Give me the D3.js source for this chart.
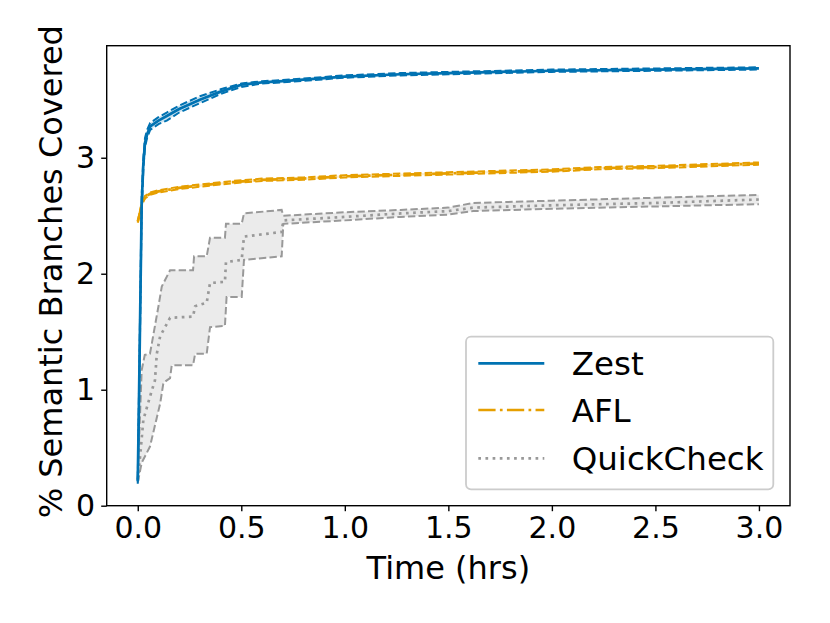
<!DOCTYPE html>
<html><head><meta charset="utf-8">
<script src="https://cdn.jsdelivr.net/npm/d3@7"></script>
<style>body{margin:0;background:#fff}svg{display:block}text{font-family:"DejaVu Sans",sans-serif;fill:#000}</style>
</head><body>
<svg id="c" width="830" height="623"></svg>
<script>
// ---- data (hours, % semantic branches covered) ----
const zestT   = [0, 0.005, 0.012, 0.019, 0.027, 0.035, 0.045, 0.06, 0.1, 0.14, 0.2, 0.3, 0.4, 0.5, 0.6, 0.7, 1.0, 1.27, 1.5, 2.0, 2.5, 3.0];
const zestMed = [0.21, 0.8, 1.7, 2.6, 2.95, 3.13, 3.2, 3.27, 3.32, 3.36, 3.42, 3.50, 3.57, 3.63, 3.65, 3.66, 3.70, 3.72, 3.73, 3.75, 3.76, 3.77];
const zestLo  = [0.19, 0.75, 1.62, 2.52, 2.9, 3.09, 3.17, 3.24, 3.29, 3.32, 3.39, 3.47, 3.55, 3.61, 3.64, 3.65, 3.69, 3.71, 3.72, 3.74, 3.75, 3.76];
const zestHi  = [0.23, 0.86, 1.78, 2.68, 3.0, 3.17, 3.24, 3.30, 3.35, 3.39, 3.45, 3.53, 3.59, 3.64, 3.66, 3.67, 3.71, 3.73, 3.74, 3.76, 3.77, 3.78];

const aflT    = [0, 0.01, 0.019, 0.035, 0.06, 0.1, 0.2, 0.3, 0.46, 0.6, 0.8, 1.0, 1.5, 2.0, 2.23, 2.5, 3.0];
const aflMed  = [2.45, 2.52, 2.60, 2.66, 2.69, 2.71, 2.74, 2.76, 2.79, 2.81, 2.82, 2.84, 2.865, 2.89, 2.91, 2.92, 2.95];
const aflLo   = [2.44, 2.51, 2.59, 2.65, 2.68, 2.70, 2.73, 2.75, 2.78, 2.80, 2.81, 2.83, 2.855, 2.88, 2.90, 2.91, 2.94];
const aflHi   = [2.46, 2.53, 2.61, 2.67, 2.70, 2.72, 2.75, 2.77, 2.80, 2.82, 2.83, 2.85, 2.875, 2.90, 2.92, 2.93, 2.96];

const qcMedT  = [0, 0.011, 0.027, 0.059, 0.083, 0.092, 0.108, 0.156, 0.267, 0.277, 0.333, 0.349, 0.421, 0.426, 0.502, 0.513, 0.695, 0.703, 1.0, 1.27, 1.5, 1.62, 2.0, 2.5, 3.0];
const qcMed   = [0.22, 0.42, 0.74, 0.94, 1.08, 1.31, 1.46, 1.62, 1.63, 1.72, 1.75, 1.92, 1.93, 2.10, 2.12, 2.32, 2.36, 2.46, 2.49, 2.52, 2.54, 2.57, 2.59, 2.61, 2.64];
const qcHiT   = [0, 0.019, 0.034, 0.059, 0.10, 0.116, 0.156, 0.267, 0.272, 0.333, 0.349, 0.421, 0.426, 0.502, 0.513, 0.695, 0.703, 1.0, 1.27, 1.5, 1.62, 2.0, 2.5, 3.0];
const qcHi    = [0.25, 1.17, 1.30, 1.31, 1.72, 1.89, 2.03, 2.03, 2.15, 2.15, 2.31, 2.31, 2.43, 2.43, 2.52, 2.55, 2.50, 2.53, 2.55, 2.57, 2.61, 2.63, 2.655, 2.68];
const qcLoT   = [0, 0.019, 0.059, 0.108, 0.124, 0.156, 0.164, 0.267, 0.277, 0.333, 0.349, 0.421, 0.429, 0.502, 0.513, 0.695, 0.703, 1.0, 1.27, 1.5, 1.62, 2.0, 2.5, 3.0];
const qcLo    = [0.20, 0.37, 0.51, 0.88, 1.06, 1.10, 1.21, 1.21, 1.31, 1.31, 1.54, 1.55, 1.80, 1.80, 2.12, 2.15, 2.43, 2.46, 2.49, 2.51, 2.54, 2.56, 2.58, 2.60];

const xTicks = [0, 0.5, 1.0, 1.5, 2.0, 2.5, 3.0];
const yTicks = [0, 1, 2, 3];
const seriesNames = ["Zest", "AFL", "QuickCheck"];

// ---- layout ----
const L = 106.7, R = 790, T = 45.7, B = 505.7;
const svg = d3.select("#c");
const x = d3.scaleLinear().domain([-0.15, 3.15]).range([L, R]);
const y = d3.scaleLinear().domain([0, 3.966]).range([B, T]);

const colors = {Zest: "#0072B2", AFL: "#E69F00", QuickCheck: "#999999"};
const lw = 2.7;

svg.append("clipPath").attr("id", "clip").append("rect")
  .attr("x", L).attr("y", T).attr("width", R - L).attr("height", B - T);
const plot = svg.append("g").attr("clip-path", "url(#clip)");

const line = d3.line().x(d => x(d[0])).y(d => y(d[1]));
const zip = (a, b) => a.map((v, i) => [v, b[i]]);

function band(tHi, hi, tLo, lo, color) {
  const pts = zip(tHi, hi).concat(zip(tLo, lo).reverse());
  plot.append("path").attr("d", line(pts) + "Z")
    .attr("fill", color).attr("fill-opacity", 0.2).attr("stroke", "none");
}
function edge(t, v, color) {
  plot.append("path").attr("d", line(zip(t, v))).attr("fill", "none")
    .attr("stroke", color).attr("stroke-width", 2.0).attr("stroke-dasharray", "7.4,3.2");
}
function med(t, v, color, dash) {
  const p = plot.append("path").attr("d", line(zip(t, v))).attr("fill", "none")
    .attr("stroke", color).attr("stroke-width", lw).attr("stroke-linejoin", "round");
  if (dash) p.attr("stroke-dasharray", dash);
}

const dashDot = [6.4 * lw, 1.6 * lw, 1 * lw, 1.6 * lw].join(",");
const dotted = [1 * lw, 1.65 * lw].join(",");

band(qcHiT, qcHi, qcLoT, qcLo, colors.QuickCheck);
edge(qcHiT, qcHi, colors.QuickCheck);
edge(qcLoT, qcLo, colors.QuickCheck);
med(qcMedT, qcMed, colors.QuickCheck, dotted);
band(aflT, aflHi, aflT, aflLo, colors.AFL);
edge(aflT, aflHi, colors.AFL);
edge(aflT, aflLo, colors.AFL);
med(aflT, aflMed, colors.AFL, dashDot);
band(zestT, zestHi, zestT, zestLo, colors.Zest);
edge(zestT, zestHi, colors.Zest);
edge(zestT, zestLo, colors.Zest);
med(zestT, zestMed, colors.Zest, null);

// ---- axes ----
const tickFs = 30, labelFs = 32, legFs = 32.5;
const xAxis = svg.append("g").attr("transform", `translate(0,${B})`)
  .call(d3.axisBottom(x).tickValues(xTicks).tickFormat(d3.format(".1f")).tickSize(5.5).tickPadding(6));
const yAxis = svg.append("g").attr("transform", `translate(${L},0)`)
  .call(d3.axisLeft(y).tickValues(yTicks).tickFormat(d3.format("d")).tickSize(5.5).tickPadding(6));
[xAxis, yAxis].forEach(a => {
  a.select(".domain").remove();
  a.selectAll(".tick line").attr("stroke", "#000").attr("stroke-width", 1.4);
  a.selectAll(".tick text").attr("font-size", tickFs).attr("font-family", "DejaVu Sans").attr("fill", "#000");
});
svg.append("rect").attr("x", L).attr("y", T).attr("width", R - L).attr("height", B - T)
  .attr("fill", "none").attr("stroke", "#000").attr("stroke-width", 1.4);

svg.append("text").attr("x", (L + R) / 2).attr("y", 578.5).attr("text-anchor", "middle")
  .attr("font-size", labelFs).text("Time (hrs)");
svg.append("text").attr("transform", `translate(62,${(T + B) / 2 - 4}) rotate(-90)`)
  .attr("text-anchor", "middle").attr("font-size", labelFs).text("% Semantic Branches Covered");

// ---- legend ----
const lg = svg.append("g");
lg.append("rect").attr("x", 466).attr("y", 336.7).attr("width", 307.3).attr("height", 152.6)
  .attr("rx", 5).attr("fill", "#fff").attr("fill-opacity", 0.8).attr("stroke", "#cccccc").attr("stroke-width", 1.8);
const legY = [363.3, 410, 458.3];
const legDash = [null, dashDot, dotted];
seriesNames.forEach((n, i) => {
  const l = lg.append("line").attr("x1", 478.3).attr("x2", 544.3).attr("y1", legY[i]).attr("y2", legY[i])
    .attr("stroke", colors[n]).attr("stroke-width", lw);
  if (legDash[i]) l.attr("stroke-dasharray", legDash[i]);
  lg.append("text").attr("x", 571.7).attr("y", legY[i] + 11.8).attr("font-size", legFs).text(n);
});
</script>
</body></html>
